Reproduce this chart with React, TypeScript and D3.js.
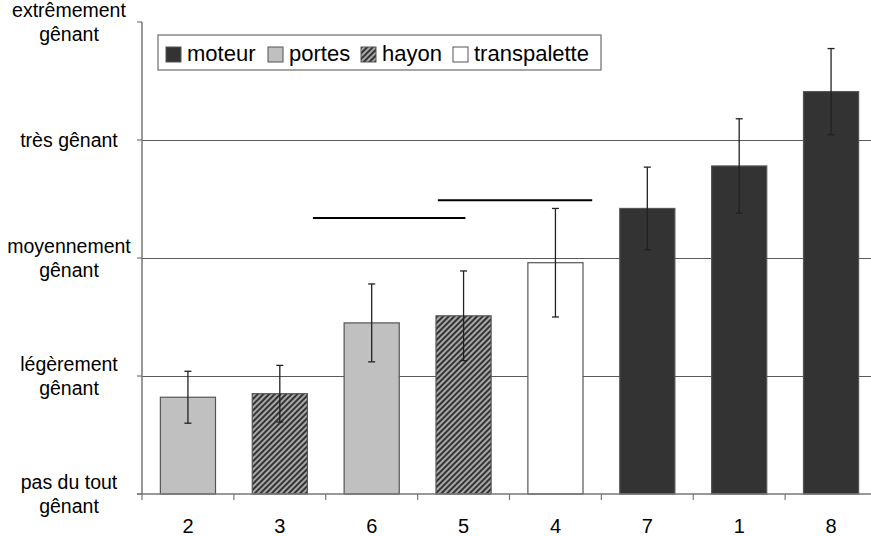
import React from 'react'
import * as d3 from 'd3'

// categories (order along the x axis) and their group
const categories = ['2', '3', '6', '5', '4', '7', '1', '8']
const groups = ['portes', 'hayon', 'portes', 'hayon', 'transpalette', 'moteur', 'moteur', 'moteur']
const means = [1.82, 1.85, 2.45, 2.51, 2.96, 3.42, 3.78, 4.41]
const errors = [0.22, 0.24, 0.33, 0.38, 0.46, 0.35, 0.40, 0.365]

// y levels 1..5
const levelValues = [1, 2, 3, 4, 5]
const levelLabels = [
  ['pas du tout', 'gênant'],
  ['légèrement', 'gênant'],
  ['moyennement', 'gênant'],
  ['très gênant'],
  ['extrêmement', 'gênant']
]

const legendItems = ['moteur', 'portes', 'hayon', 'transpalette']

// significance lines: start / end in category units, level value
const sigStart = [1.86, 3.22]
const sigEnd = [3.52, 4.9]
const sigLevel = [3.34, 3.49]

const fills: Record<string, string> = {
  moteur: '#333333',
  portes: '#c0c0c0',
  hayon: 'url(#hatch)',
  transpalette: '#ffffff'
}

const W = 871
const H = 536
const font = '"Liberation Sans", Arial, sans-serif'

export default function App() {
  const left = 142
  const right = 877
  const top = 22
  const bottom = 494

  const x = d3.scaleBand<string>()
    .domain(categories)
    .range([left, right])
    .paddingInner(0.4)
    .paddingOuter(0.2)

  const step = x.step()
  const xFrac = (f: number) => left + f * step

  const y = d3.scaleLinear().domain([1, 5]).range([bottom, top])

  const legendX = [166, 268, 361, 453]

  return (
    <svg width={W} height={H} style={{ position: 'absolute', left: 0, top: 0, background: '#fff' }}
      fontFamily={font}>
      <defs>
        <pattern id="hatch" patternUnits="userSpaceOnUse" width={4} height={4}
          patternTransform="rotate(45)">
          <rect width={4} height={4} fill="#a8a8a8" />
          <rect width={2} height={4} fill="#333" />
        </pattern>
      </defs>

      {/* gridlines */}
      {levelValues.slice(1, 4).map(v => (
        <line key={v} x1={left} x2={W} y1={Math.round(y(v)) + 0.5} y2={Math.round(y(v)) + 0.5}
          stroke="#5a5a5a" strokeWidth={1} />
      ))}

      {/* bars */}
      {categories.map((c, i) => (
        <rect key={c} x={x(c)} y={y(means[i])} width={x.bandwidth()} height={y(1) - y(means[i])}
          fill={fills[groups[i]]} stroke="#555" strokeWidth={1.2} />
      ))}

      {/* error bars */}
      {categories.map((c, i) => {
        const cx = (x(c) as number) + x.bandwidth() / 2
        const y0 = y(means[i] - errors[i])
        const y1 = y(means[i] + errors[i])
        return (
          <g key={c} stroke="#222" strokeWidth={1.3}>
            <line x1={cx} x2={cx} y1={y0} y2={y1} />
            <line x1={cx - 3.5} x2={cx + 3.5} y1={y0} y2={y0} />
            <line x1={cx - 3.5} x2={cx + 3.5} y1={y1} y2={y1} />
          </g>
        )
      })}

      {/* significance lines */}
      {sigStart.map((s, i) => (
        <line key={i} x1={xFrac(s)} x2={xFrac(sigEnd[i])} y1={y(sigLevel[i])} y2={y(sigLevel[i])}
          stroke="#000" strokeWidth={2} />
      ))}

      {/* y axis */}
      <line x1={left} x2={left} y1={top} y2={bottom} stroke="#777" strokeWidth={1.5} />
      {levelValues.map((v, i) => (
        <g key={v}>
          <line x1={left - 5} x2={left} y1={y(v)} y2={y(v)} stroke="#777" strokeWidth={1.2} />
          {levelLabels[i].map((t, j) => {
            const n = levelLabels[i].length
            const off = (j - (n - 1) / 2) * 24
            return (
              <text key={j} x={69} y={y(v) + off} dy="0.35em" textAnchor="middle" fontSize={19.5} fill="#000">
                {t}
              </text>
            )
          })}
        </g>
      ))}

      {/* x axis */}
      <line x1={left - 5} x2={W} y1={bottom} y2={bottom} stroke="#777" strokeWidth={1.5} />
      {d3.range(categories.length + 1).map(k => (
        <line key={k} x1={xFrac(k)} x2={xFrac(k)} y1={bottom} y2={bottom + 6} stroke="#777" strokeWidth={1.2} />
      ))}
      {categories.map(c => (
        <text key={c} x={(x(c) as number) + x.bandwidth() / 2} y={533} textAnchor="middle" fontSize={20} fill="#000">
          {c}
        </text>
      ))}

      {/* legend */}
      <rect x={158} y={35} width={443} height={35} fill="#fff" stroke="#777" strokeWidth={1.3} />
      {legendItems.map((g, i) => (
        <g key={g}>
          <rect x={legendX[i]} y={47} width={15} height={15} fill={fills[g]} stroke="#555" strokeWidth={1} />
          <text x={legendX[i] + 21} y={61} fontSize={22} fill="#000">{g}</text>
        </g>
      ))}
    </svg>
  )
}
